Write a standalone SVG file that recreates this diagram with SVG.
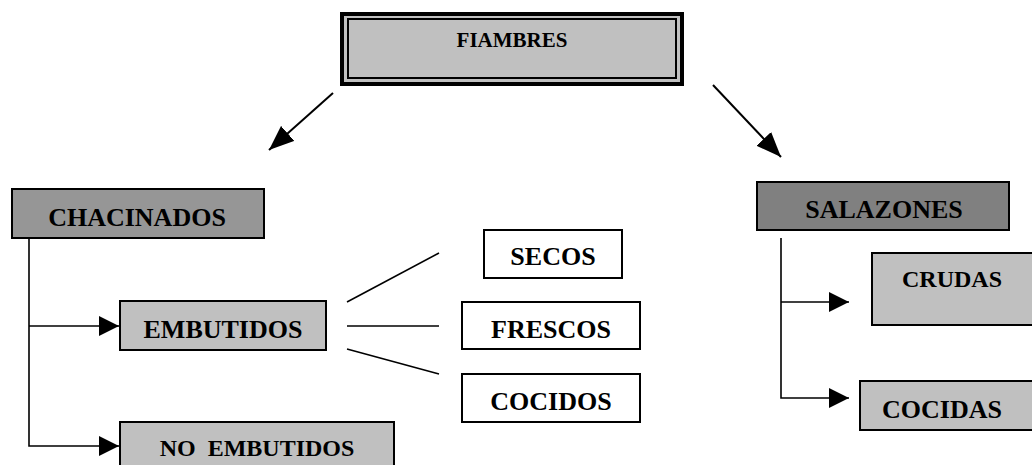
<svg xmlns="http://www.w3.org/2000/svg" width="1032" height="465" viewBox="0 0 1032 465">
<defs>
<style>
text{font-family:"Liberation Serif","Times New Roman",serif;font-weight:bold;fill:#000;text-anchor:middle;white-space:pre}
.box{stroke:#000;stroke-width:2}
.l{fill:#C0C0C0}
.m{fill:#969696}
.d{fill:#808080}
.w{fill:#fff}
.c{stroke:#000;stroke-width:1.6;fill:none}
.cd{stroke:#000;stroke-width:2;fill:none}
</style>
<marker id="ah" markerUnits="userSpaceOnUse" markerWidth="20" markerHeight="20" refX="20" refY="10" orient="auto">
<path d="M0,0 L20,10 L0,20 Z" fill="#000"/>
</marker>
<marker id="ad" markerUnits="userSpaceOnUse" markerWidth="25" markerHeight="20" refX="25" refY="10" orient="auto">
<path d="M0,0 L25,10 L0,20 Z" fill="#000"/>
</marker>
</defs>
<rect width="1032" height="465" fill="#fff"/>
<g id="connectors">
<line class="cd" x1="333" y1="93" x2="269" y2="150" marker-end="url(#ad)"/>
<line class="cd" x1="713" y1="85" x2="781" y2="157" marker-end="url(#ad)"/>
<polyline class="c" points="29,239 29,446 119,446" marker-end="url(#ah)"/>
<line class="c" x1="29" y1="326" x2="119" y2="326" marker-end="url(#ah)"/>
<line class="c" x1="347" y1="302" x2="439" y2="253"/>
<line class="c" x1="347" y1="326" x2="439" y2="326"/>
<line class="c" x1="347" y1="349" x2="439" y2="374"/>
<polyline class="c" points="781,238 781,398 849,398" marker-end="url(#ah)"/>
<line class="c" x1="781" y1="302" x2="849" y2="302" marker-end="url(#ah)"/>
</g>
<g id="fiambres">
<rect x="342" y="14" width="340" height="70" fill="#C0C0C0" stroke="#000" stroke-width="4"/>
<rect x="348" y="19" width="328" height="59" fill="none" stroke="#000" stroke-width="2"/>
<text x="512" y="47" font-size="21">FIAMBRES</text>
</g>
<g id="chacinados">
<rect class="box m" x="12" y="189" width="252" height="49"/>
<text x="137" y="226" font-size="26">CHACINADOS</text>
</g>
<g id="embutidos">
<rect class="box l" x="120" y="301" width="206" height="49"/>
<text x="223" y="338" font-size="26">EMBUTIDOS</text>
</g>
<g id="no-embutidos">
<rect class="box l" x="120" y="422" width="274" height="50"/>
<text x="257" y="456" font-size="24">NO  EMBUTIDOS</text>
</g>
<g id="secos">
<rect class="box w" x="484" y="230" width="138" height="48"/>
<text x="553" y="265" font-size="26">SECOS</text>
</g>
<g id="frescos">
<rect class="box w" x="462" y="302" width="178" height="47"/>
<text x="551" y="338" font-size="26">FRESCOS</text>
</g>
<g id="cocidos">
<rect class="box w" x="462" y="374" width="178" height="48"/>
<text x="551" y="410" font-size="26">COCIDOS</text>
</g>
<g id="salazones">
<rect class="box d" x="757" y="182" width="252" height="48"/>
<text x="884" y="218" font-size="26">SALAZONES</text>
</g>
<g id="crudas">
<rect class="box l" x="872" y="253" width="166" height="72"/>
<text x="952" y="287" font-size="24">CRUDAS</text>
</g>
<g id="cocidas">
<rect class="box l" x="860" y="381" width="178" height="49"/>
<text x="942" y="418" font-size="26">COCIDAS</text>
</g>
</svg>
